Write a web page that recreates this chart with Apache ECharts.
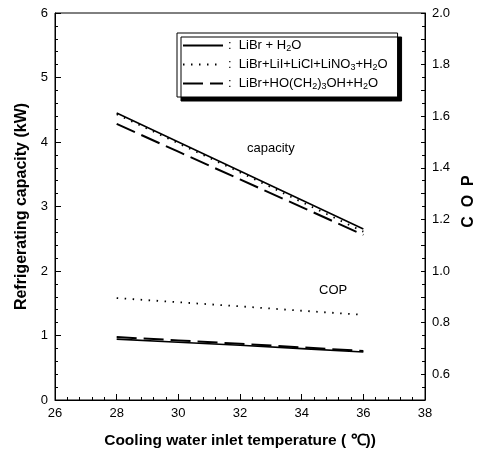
<!DOCTYPE html>
<html>
<head>
<meta charset="utf-8">
<script src="https://cdn.jsdelivr.net/npm/echarts@6/dist/echarts.min.js"></script>
<style>
html,body{margin:0;padding:0;background:#fff;}
#c{width:485px;height:458px;}
</style>
</head>
<body>
<div id="c"></div>
<script>
// Data
var temps = [28, 30, 32, 34, 36];
var capLiBr = [4.45, 4.00, 3.55, 3.10, 2.65];
var capMix  = [4.43, 3.98, 3.53, 3.07, 2.61];
var capProp = [4.28, 3.85, 3.42, 2.99, 2.56];
var copLiBr = [0.736, 0.724, 0.712, 0.699, 0.686];
var copMix  = [0.895, 0.879, 0.863, 0.846, 0.830];
var copProp = [0.744, 0.731, 0.718, 0.704, 0.690];
var names = ['LiBr + H2O', 'LiBr+LiI+LiCl+LiNO3+H2O', 'LiBr+HO(CH2)3OH+H2O'];
var richNames = {
  'LiBr + H2O': ':  {t|LiBr + H}{s|2}{t|O}',
  'LiBr+LiI+LiCl+LiNO3+H2O': ':  {t|LiBr+LiI+LiCl+LiNO}{s|3}{t|+H}{s|2}{t|O}',
  'LiBr+HO(CH2)3OH+H2O': ':  {t|LiBr+HO(CH}{s|2}{t|)}{s|3}{t|OH+H}{s|2}{t|O}'
};

function pairs(xs, ys){ return xs.map(function(x,i){ return [x, ys[i]]; }); }

var FONT = 'Liberation Sans, Arial, sans-serif';
var styles = [
  {type:'solid', width:1.6},
  {type:[1.5,6.5], width:1.8},
  {type:[20,7], width:2}
];

var chart = echarts.init(document.getElementById('c'));
var series = [];
var capSets = [capLiBr, capMix, capProp];
var copSets = [copLiBr, copMix, copProp];
for (var i=0;i<3;i++){
  series.push({name:names[i], type:'line', xAxisIndex:0, yAxisIndex:0, data:pairs(temps, capSets[i]),
    symbol:'none', lineStyle:{color:'#000', width:styles[i].width, type:styles[i].type}, itemStyle:{color:'#000'}, z:3});
  series.push({name:names[i], type:'line', xAxisIndex:0, yAxisIndex:1, data:pairs(temps, copSets[i]),
    symbol:'none', lineStyle:{color:'#000', width:styles[i].width, type:styles[i].type}, itemStyle:{color:'#000'}, z:3});
}

chart.setOption({
  animation:false,
  backgroundColor:'#fff',
  textStyle:{fontFamily:FONT},
  grid:{left:55, right:53, top:13, bottom:58, show:true, borderColor:'#000', borderWidth:1, backgroundColor:'transparent'},
  legend:{
    data:names, orient:'vertical', left:177, top:33,
    padding:[6,10,6,5], itemGap:5, itemWidth:40, itemHeight:13,
    backgroundColor:'#fff', borderColor:'#000', borderWidth:1,
    shadowColor:'#000', shadowBlur:0, shadowOffsetX:4, shadowOffsetY:4,
    itemStyle:{opacity:0},
    formatter:function(n){ return richNames[n]; },
    textStyle:{fontFamily:FONT, fontSize:13, color:'#000',
      rich:{t:{fontSize:13, fontFamily:FONT, color:'#000'}, s:{fontSize:9, fontFamily:FONT, color:'#000', padding:[6,0,0,0]}}}
  },
  xAxis:{type:'value', min:26, max:38, interval:2, position:'bottom',
    name:'Cooling water inlet temperature ( \u2103))', nameLocation:'middle', nameGap:33,
    nameTextStyle:{fontFamily:FONT, fontSize:15.5, fontWeight:'bold', color:'#000'},
    axisLine:{lineStyle:{color:'#000', width:1}},
    axisTick:{inside:true, length:6, lineStyle:{color:'#000'}},
    minorTick:{show:true, splitNumber:5, length:3, lineStyle:{color:'#000'}},
    splitLine:{show:false},
    axisLabel:{fontFamily:FONT, fontSize:13, color:'#000', margin:7}
  },
  yAxis:[
    {type:'value', min:0, max:6, interval:1, position:'left',
      name:'Refrigerating capacity (kW)', nameLocation:'middle', nameGap:25,
      nameTextStyle:{fontFamily:FONT, fontSize:16, fontWeight:'bold', color:'#000'},
      axisLine:{show:true, lineStyle:{color:'#000'}},
      axisTick:{inside:true, length:6, lineStyle:{color:'#000'}},
      minorTick:{show:true, splitNumber:5, length:3, lineStyle:{color:'#000'}},
      splitLine:{show:false},
      axisLabel:{fontFamily:FONT, fontSize:13, color:'#000', margin:7}
    },
    {type:'value', min:0.5, max:2.0, interval:0.1, position:'right',
      name:'C  O  P', nameLocation:'middle', nameGap:33,
      nameTextStyle:{fontFamily:FONT, fontSize:16, fontWeight:'bold', color:'#000', padding:[0,0,0,10]},
      axisLine:{show:true, lineStyle:{color:'#000'}},
      axisTick:{inside:true, length:4, lineStyle:{color:'#000'}},
      minorTick:{show:true, splitNumber:2, length:3, lineStyle:{color:'#000'}},
      splitLine:{show:false},
      axisLabel:{fontFamily:FONT, fontSize:13, color:'#000', margin:7,
        formatter:function(v){ var r=Math.round(v*10); return (r%2===0 && r>=6) ? (r/10).toFixed(1) : ''; }}
    }
  ],
  graphic:[
    {type:'text', left:247, top:142, style:{text:'capacity', fontFamily:FONT, fontSize:13, fill:'#000'}},
    {type:'text', left:319, top:284, style:{text:'COP', fontFamily:FONT, fontSize:13, fill:'#000'}}
  ],
  series:series
});
</script>
</body>
</html>
